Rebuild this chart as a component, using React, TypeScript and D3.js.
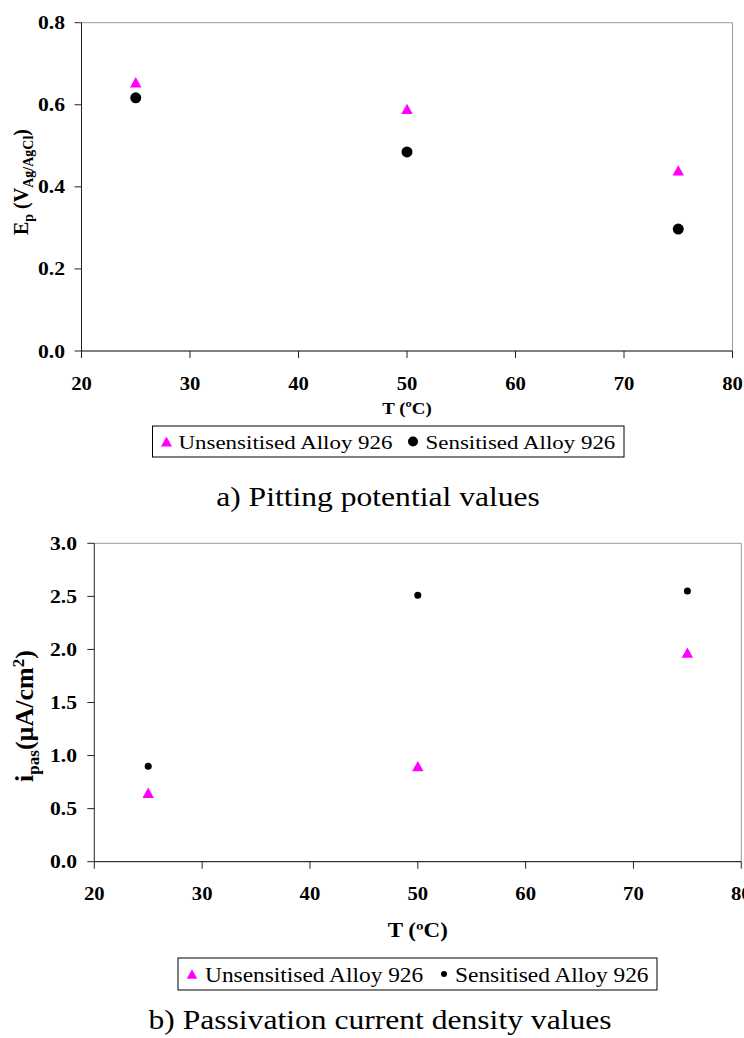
import React from 'react';
import * as d3 from 'd3';

const temps = [25, 50, 75];
const xTicks = [20, 30, 40, 50, 60, 70, 80];

// a) pitting potential (V Ag/AgCl)
const epUnsens = [0.655, 0.59, 0.44];
const epSens = [0.617, 0.485, 0.297];
const epTicks = [0.0, 0.2, 0.4, 0.6, 0.8];

// b) passivation current density (µA/cm2)
const ipUnsens = [0.65, 0.9, 1.97];
const ipSens = [0.9, 2.51, 2.55];
const ipTicks = [0.0, 0.5, 1.0, 1.5, 2.0, 2.5, 3.0];

const legendNames = ['Unsensitised Alloy 926', 'Sensitised Alloy 926'];

const serif = '"Liberation Serif", "Times New Roman", serif';
const MAGENTA = '#FF00FF';

function tri(cx: number, cy: number, s: number) {
  const h = s * 0.9;
  return `M${cx},${cy - h / 2}L${cx + s / 2},${cy + h / 2}L${cx - s / 2},${cy + h / 2}Z`;
}

// text a bit wider than the font, like the original picture
function SText({ x, y, sx = 1.17, size, bold = false, anchor = 'start', children }: any) {
  return (
    <text transform={`translate(${x},${y}) scale(${sx},1)`} textAnchor={anchor}
      fontFamily={serif} fontWeight={bold ? 'bold' : 'normal'} fontSize={size}>{children}</text>
  );
}

type PanelProps = {
  x0: number; x1: number; y0: number; y1: number;
  yMax: number; yTicks: number[];
  unsens: number[]; sens: number[];
  yTickRight: number;
  xTickBase: number;
  xTitle: { base: number; size: number; sx: number };
  yLabel: { x: number; cy: number; node: React.ReactNode };
  triSize: number; dotR: number;
  legend: { x: number; y: number; w: number; h: number; size: number; triS: number; dotR: number; t1: number; dot: number; t2: number };
  title: string; titleX: number; titleBase: number;
};

function Panel(p: PanelProps) {
  const x = d3.scaleLinear().domain([20, 80]).range([p.x0, p.x1]);
  const y = d3.scaleLinear().domain([0, p.yMax]).range([p.y1, p.y0]);
  const fmt = d3.format('.1f');
  const L = p.legend;
  const midY = L.y + L.h / 2;
  return (
    <g>
      {/* top gridline and right border */}
      <line x1={p.x0} x2={p.x1} y1={y(p.yMax)} y2={y(p.yMax)} stroke="#999" strokeWidth={1} />
      <line x1={p.x1} x2={p.x1} y1={y(p.yMax)} y2={p.y1} stroke="#999" strokeWidth={1} />
      {/* y axis */}
      <line x1={p.x0} x2={p.x0} y1={y(p.yMax)} y2={p.y1} stroke="#222" strokeWidth={1} />
      {p.yTicks.map(t => (
        <g key={t}>
          <line x1={p.x0 - 7} x2={p.x0} y1={y(t)} y2={y(t)} stroke="#222" />
          <SText x={p.yTickRight} y={y(t) + 6.5} size={18.5} bold anchor="end">{fmt(t)}</SText>
        </g>
      ))}
      {/* x axis */}
      <line x1={p.x0} x2={p.x1} y1={p.y1} y2={p.y1} stroke="#000" strokeWidth={1} />
      {xTicks.map(t => (
        <g key={t}>
          <line x1={x(t)} x2={x(t)} y1={p.y1} y2={p.y1 + 7} stroke="#222" />
          <SText x={x(t)} y={p.xTickBase} size={18.5} sx={1.12} bold anchor="middle">{t}</SText>
        </g>
      ))}
      <SText x={(p.x0 + p.x1) / 2} y={p.xTitle.base} size={p.xTitle.size} sx={p.xTitle.sx} bold anchor="middle">T (ºC)</SText>
      <text transform={`translate(${p.yLabel.x},${p.yLabel.cy}) rotate(-90)`} textAnchor="middle"
        fontFamily={serif} fontWeight="bold">{p.yLabel.node}</text>
      {/* points */}
      {temps.map((t, i) => (
        <path key={'u' + t} d={tri(x(t), y(p.unsens[i]), p.triSize)} fill={MAGENTA} />
      ))}
      {temps.map((t, i) => (
        <circle key={'s' + t} cx={x(t)} cy={y(p.sens[i])} r={p.dotR} fill="#000" />
      ))}
      {/* legend */}
      <rect x={L.x} y={L.y} width={L.w} height={L.h} fill="#fff" stroke="#000" strokeWidth={1} />
      <path d={tri(L.x + 14, midY, L.triS)} fill={MAGENTA} />
      <SText x={L.x + L.t1} y={midY + 7.8} size={L.size}>{legendNames[0]}</SText>
      <circle cx={L.x + L.dot} cy={midY} r={L.dotR} fill="#000" />
      <SText x={L.x + L.t2} y={midY + 7.8} size={L.size}>{legendNames[1]}</SText>
      <SText x={p.titleX} y={p.titleBase} size={27} anchor="middle">{p.title}</SText>
    </g>
  );
}

export default function App() {
  return (
    <svg width={744} height={1038} style={{ position: 'absolute', left: 0, top: 0, background: '#fff' }}>
      <Panel
        x0={81.5} x1={732.5} y0={22.7} y1={351} yMax={0.8} yTicks={epTicks}
        unsens={epUnsens} sens={epSens}
        yTickRight={65} xTickBase={390}
        xTitle={{ base: 414, size: 17.5, sx: 1.08 }}
        yLabel={{
          x: 28, cy: 182,
          node: <tspan fontSize={20}>E<tspan dy={5} fontSize={14}>p</tspan><tspan dy={-5}> (V</tspan><tspan dy={5} fontSize={14}>Ag/AgCl</tspan><tspan dy={-5}>)</tspan></tspan>,
        }}
        triSize={11.5} dotR={5.5}
        legend={{ x: 152.5, y: 426, w: 471.5, h: 31, size: 19.6, triS: 11, dotR: 5, t1: 26, dot: 260.5, t2: 273 }}
        title="a) Pitting potential values" titleX={378} titleBase={506}
      />
      <Panel
        x0={94.3} x1={741.3} y0={543.3} y1={861.7} yMax={3.0} yTicks={ipTicks}
        unsens={ipUnsens} sens={ipSens}
        yTickRight={77} xTickBase={900}
        xTitle={{ base: 937, size: 20, sx: 1.15 }}
        yLabel={{
          x: 33, cy: 716,
          node: <tspan fontSize={26}>i<tspan dy={6} fontSize={17}>pas</tspan><tspan dy={-6}>(µA/cm</tspan><tspan dy={-9} fontSize={17}>2</tspan><tspan dy={9}>)</tspan></tspan>,
        }}
        triSize={11.5} dotR={3.5}
        legend={{ x: 178, y: 958, w: 479, h: 32, size: 20, triS: 10.5, dotR: 3, t1: 27, dot: 266, t2: 277 }}
        title="b) Passivation current density values" titleX={380} titleBase={1029}
      />
    </svg>
  );
}
